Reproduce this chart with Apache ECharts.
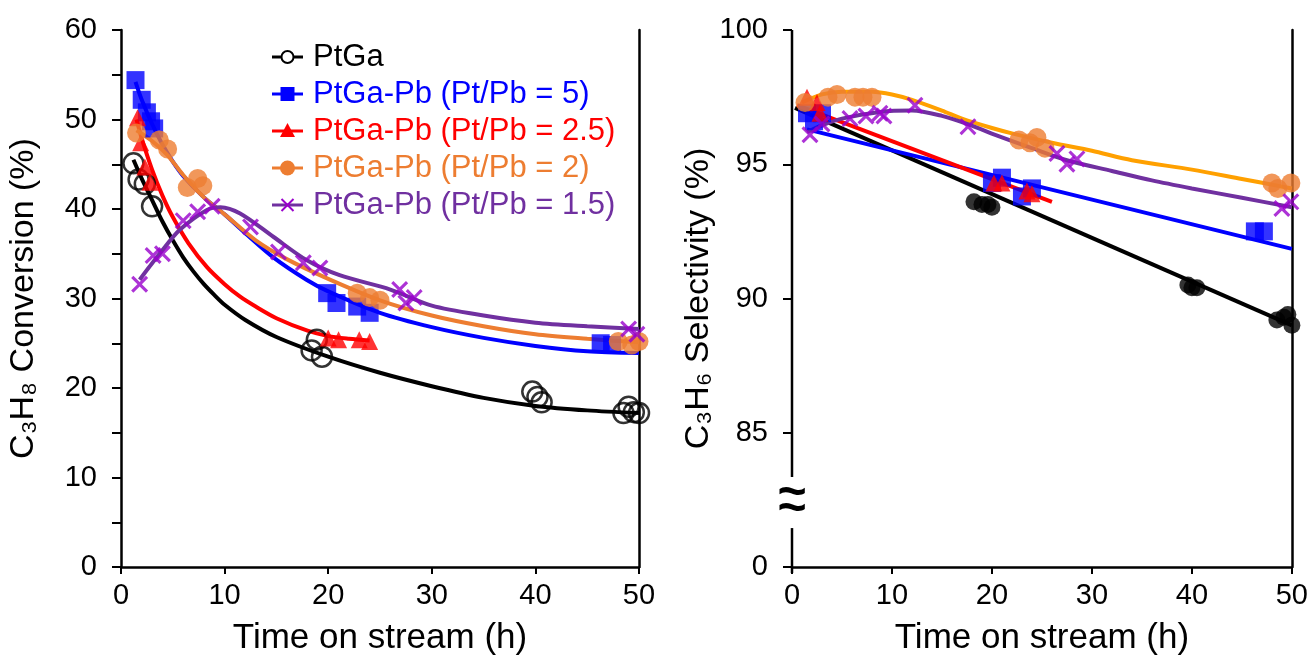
<!DOCTYPE html>
<html>
<head>
<meta charset="utf-8">
<script src="https://cdn.jsdelivr.net/npm/echarts@6/dist/echarts.min.js"></script>
<style>
html, body { margin: 0; padding: 0; background: #fff; }
#chart { width: 1311px; height: 666px; }
</style>
</head>
<body>
<div id="chart"></div>
<script>
// ---- Series labels ----
const seriesNames = ['PtGa', 'PtGa-Pb (Pt/Pb = 5)', 'PtGa-Pb (Pt/Pb = 2.5)', 'PtGa-Pb (Pt/Pb = 2)', 'PtGa-Pb (Pt/Pb = 1.5)'];

// ---- Axis labels ----
const timeTitle = 'Time on stream (h)';
const convTitle = 'C\u2083H\u2088 Conversion (%)';
const selTitle = 'C\u2083H\u2086 Selectivity (%)';
const selBreakLow = 80;    // value position of the "0" tick below the break
const selBreakFrom = 81.45; // axis gap start
const selBreakTo = 83.35;   // axis gap end

// ---- C3H8 conversion (%) vs time on stream (h): measured points ----
const convPtGa = [[1.2,45.1],[1.7,43.3],[2.3,42.8],[3.0,40.3],[18.4,24.2],[18.9,25.4],[19.4,23.5],[39.7,19.6],[40.2,19.0],[40.6,18.4],[48.5,17.2],[49.0,17.9],[49.5,17.3],[50.0,17.2]];
const convPb5 = [[1.4,54.4],[2.0,52.2],[2.5,50.8],[2.9,49.8],[3.2,49.0],[19.9,30.6],[20.8,29.5],[22.8,29.1],[24.0,28.4],[46.3,25.0],[47.4,24.8]];
const convPb25 = [[1.6,50.2],[1.9,47.4],[2.3,44.7],[2.8,43.0],[20.0,25.6],[21.0,25.4],[23.0,25.4],[24.0,25.2]];
const convPb2 = [[1.5,48.5],[3.7,47.7],[4.5,46.7],[6.4,42.4],[7.4,43.4],[7.9,42.6],[22.8,30.6],[24.0,30.1],[25.0,29.8],[48.0,25.2],[49.3,24.8],[50.0,25.2]];
const convPb15 = [[1.8,31.6],[3.1,34.8],[4.0,35.0],[6.0,38.7],[7.4,39.7],[8.8,40.3],[12.5,38.0],[15.2,35.2],[17.6,34.0],[19.2,33.4],[26.9,31.0],[27.5,29.5],[28.3,30.1],[49.0,26.6],[49.8,26.0]];

// ---- C3H8 conversion trend curves ----
const convFitPtGa = [[1.2,45.5],[2,43.4],[3,41.0],[4,38.6],[5,36.5],[6,34.6],[7,33.0],[8,31.6],[9,30.4],[10,29.3],[12,27.6],[15,25.7],[20,23.5],[25,21.7],[30,20.2],[35,18.9],[40,18.0],[45,17.5],[50,17.2]];
const convFitPb5 = [[1.4,54.2],[2,52.2],[3,49.5],[4,47.2],[5,45.3],[6,43.7],[8,41.3],[10,39.4],[12,37.3],[14.7,34.6],[17.9,32.1],[20,30.8],[25,28.4],[30,26.8],[35,25.6],[40,24.7],[45,24.1],[50,23.9]];
const convFitPb25 = [[1.5,50],[2,47.9],[3,44.4],[4,41.5],[5,39.1],[6.5,36.2],[8.3,33.5],[10,31.6],[11.5,30.2],[13,29.1],[15,27.8],[18,26.4],[20,25.8],[22,25.5],[24,25.3]];
const convFitPb2 = [[1.5,48.8],[3,47.6],[4.5,46],[6,43.8],[8,41.3],[10,39.4],[13,36.5],[16,34.4],[20,32.2],[25,29.8],[30,28.1],[35,26.9],[40,26.0],[45,25.5],[50,25.1]];
const convFitPb15 = [[1.8,32.1],[3.8,35.1],[5.7,37.7],[8.3,39.9],[9.6,40.2],[11.5,39.5],[14.7,36.9],[17.9,34.3],[21.1,32.6],[26,31.0],[30,29.2],[35,28.1],[40,27.3],[45,26.9],[50,26.6]];

// ---- C3H6 selectivity (%) vs time on stream (h): measured points ----
const selPtGa = [[18.2,93.6],[19.0,93.5],[19.6,93.5],[20.0,93.4],[39.6,90.5],[40.0,90.4],[40.5,90.4],[48.5,89.2],[49.2,89.3],[49.6,89.4],[50.0,89.0]];
const selPb5 = [[1.5,96.9],[2.2,96.6],[3.0,96.9],[20.0,94.3],[21.0,94.5],[23.0,93.8],[24.0,94.1],[46.3,92.5],[47.2,92.5]];
const selPb25 = [[1.5,97.5],[2.5,97.3],[2.8,96.9],[20.2,94.3],[21.0,94.3],[23.5,94.0],[24.0,93.9]];
const selPb2 = [[1.3,97.3],[3.6,97.5],[4.5,97.6],[6.3,97.5],[7.1,97.5],[8.0,97.5],[22.7,95.9],[23.8,95.8],[24.5,96.0],[25.3,95.6],[48.0,94.3],[48.6,94.1],[49.9,94.3]];
const selPb15 = [[1.8,96.1],[3.0,96.5],[5.8,96.7],[7.4,96.8],[8.8,96.9],[9.2,96.8],[12.3,97.2],[17.6,96.4],[26.5,95.4],[27.5,95.0],[28.5,95.2],[49.0,93.35],[49.9,93.6]];

// ---- C3H6 selectivity trend lines ----
const selFitPtGa = [[0.3,97.1],[50,89.0]];
const selFitPb5 = [[1.5,96.3],[50,91.85]];
const selFitPb25 = [[0.5,97.2],[26,93.6]];
const selFitPb2 = [[1,97.3],[3,97.6],[5,97.7],[8,97.7],[10,97.6],[12,97.4],[15,97.0],[17,96.7],[20,96.35],[22,96.15],[26,95.8],[30,95.5],[34,95.15],[40,94.8],[45,94.45],[50,94.1]];
const selFitPb15 = [[1.5,96.2],[3,96.45],[5,96.7],[8.8,96.95],[12,97.0],[15,96.8],[17.5,96.5],[21,96.0],[24,95.6],[27.5,95.15],[32,94.75],[36,94.4],[40,94.1],[45,93.75],[50,93.4]];

const FONT = '"Liberation Sans", Arial, sans-serif';
const C = {
  black: '#000000', blue: '#0000FF', red: '#FF0000',
  orange: '#ED7D31', orangeLine: '#FFA000',
  purpleLine: '#7030A0', purpleMark: '#9900CC'
};
const crossPath = 'path://M0,1.3 L1.3,0 L5,3.7 L8.7,0 L10,1.3 L6.3,5 L10,8.7 L8.7,10 L5,6.3 L1.3,10 L0,8.7 L3.7,5 Z';

const chart = echarts.init(document.getElementById('chart'), null, { renderer: 'canvas' });

function xAxisDef(gridIndex) {
  return {
    gridIndex, type: 'value', min: 0, max: 50, interval: 10,
    axisLine: { show: true, onZero: false, lineStyle: { color: '#000', width: 2.5 } },
    axisTick: { show: true, inside: false, length: 7, lineStyle: { color: '#000', width: 2 } },
    axisLabel: { fontSize: 29, color: '#000', fontFamily: FONT, margin: 14 },
    splitLine: { show: false },
    name: timeTitle, nameLocation: 'middle', nameGap: 54,
    nameTextStyle: { fontSize: 35, color: '#000', fontFamily: FONT }
  };
}
const yTitleStyle = { fontSize: 34, color: '#000', fontFamily: FONT };
function frameAxis(gridIndex, min, max) {
  return {
    gridIndex, type: 'value', position: 'right', min, max,
    axisLine: { show: true, onZero: false, lineStyle: { color: '#000', width: 2.5 } },
    axisTick: { show: false }, axisLabel: { show: false }, splitLine: { show: false }
  };
}

function scatter(name, data, x, y, symbol, size, itemStyle) {
  return { name, type: 'scatter', xAxisIndex: x, yAxisIndex: y, data, symbol, symbolSize: size, itemStyle, z: 5, silent: true };
}
function curve(name, data, x, y, color, smooth) {
  return {
    name, type: 'line', xAxisIndex: x, yAxisIndex: y, data, smooth, showSymbol: false, symbol: 'none',
    lineStyle: { color, width: 4 }, z: 3, silent: true
  };
}

const option = {
  animation: false,
  backgroundColor: '#fff',
  grid: [
    { left: 121, top: 30, width: 518, height: 537 },
    { left: 792, top: 30, width: 500, height: 537 }
  ],
  xAxis: [xAxisDef(0), xAxisDef(1)],
  yAxis: [
    {
      gridIndex: 0, type: 'value', min: 0, max: 60, interval: 5,
      axisLine: { show: true, onZero: false, lineStyle: { color: '#000', width: 2.5 } },
      axisTick: { show: true, length: 9, lineStyle: { color: '#000', width: 2 } },
      axisLabel: { fontSize: 29, color: '#000', fontFamily: FONT, margin: 24,
        formatter: v => (v % 10 === 0 ? String(v) : '') },
      splitLine: { show: false },
      name: convTitle, nameLocation: 'middle', nameRotate: 90, nameGap: 80,
      nameTextStyle: yTitleStyle
    },
    frameAxis(0, 0, 60),
    {
      gridIndex: 1, type: 'value', min: selBreakLow, max: 100, interval: 5,
      axisLine: { show: false },
      axisTick: { show: true, length: 9, lineStyle: { color: '#000', width: 2 } },
      axisLabel: { fontSize: 29, color: '#000', fontFamily: FONT, margin: 24,
        formatter: v => (v === selBreakLow ? '0' : String(v)) },
      splitLine: { show: false },
      name: selTitle, nameLocation: 'middle', nameRotate: 90, nameGap: 76,
      nameTextStyle: yTitleStyle
    },
    frameAxis(1, selBreakLow, 100)
  ],
  series: [
    // conversion panel
    curve('fitConvPtGa', convFitPtGa, 0, 0, C.black, 0.3),
    curve('fitConvPb5', convFitPb5, 0, 0, C.blue, 0.3),
    curve('fitConvPb25', convFitPb25, 0, 0, C.red, 0.3),
    curve('fitConvPb2', convFitPb2, 0, 0, C.orange, 0.3),
    curve('fitConvPb15', convFitPb15, 0, 0, C.purpleLine, 0.3),
    scatter(seriesNames[0], convPtGa, 0, 0, 'circle', 20, { color: 'rgba(0,0,0,0)', borderColor: C.black, borderWidth: 2.5 }),
    scatter(seriesNames[1], convPb5, 0, 0, 'rect', 18, { color: C.blue }),
    scatter(seriesNames[2], convPb25, 0, 0, 'triangle', 17, { color: C.red }),
    scatter(seriesNames[3], convPb2, 0, 0, 'circle', 19, { color: C.orange }),
    scatter(seriesNames[4], convPb15, 0, 0, crossPath, 17, { color: C.purpleMark }),
    // selectivity panel
    curve('fitSelPtGa', selFitPtGa, 1, 2, C.black, false),
    curve('fitSelPb5', selFitPb5, 1, 2, C.blue, false),
    curve('fitSelPb25', selFitPb25, 1, 2, C.red, false),
    curve('fitSelPb2', selFitPb2, 1, 2, C.orangeLine, 0.3),
    curve('fitSelPb15', selFitPb15, 1, 2, C.purpleLine, 0.3),
    scatter(seriesNames[0], selPtGa, 1, 2, 'circle', 17, { color: C.black }),
    scatter(seriesNames[1], selPb5, 1, 2, 'rect', 18, { color: C.blue }),
    scatter(seriesNames[2], selPb25, 1, 2, 'triangle', 17, { color: C.red }),
    scatter(seriesNames[3], selPb2, 1, 2, 'circle', 19, { color: C.orange }),
    scatter(seriesNames[4], selPb15, 1, 2, crossPath, 17, { color: C.purpleMark })
  ]
};
chart.setOption(option);

// ---- Legend (line + marker icon, coloured text) ----
const legendRows = [57, 94, 131, 168, 205];
const legendColors = [C.black, C.blue, C.red, C.orange, C.purpleLine];
const lx1 = 272, lx2 = 303, lmx = 287.5, ltx = 313;
const g = [];
legendRows.forEach((y, i) => {
  g.push({ type: 'line', shape: { x1: lx1, y1: y, x2: lx2, y2: y }, style: { stroke: legendColors[i], lineWidth: 3 }, z: 10 });
  if (i === 0) g.push({ type: 'circle', shape: { cx: lmx, cy: y, r: 6 }, style: { fill: '#fff', stroke: C.black, lineWidth: 2 }, z: 11 });
  if (i === 1) g.push({ type: 'rect', shape: { x: lmx - 7, y: y - 7, width: 14, height: 14 }, style: { fill: C.blue }, z: 11 });
  if (i === 2) g.push({ type: 'polygon', shape: { points: [[lmx, y - 8], [lmx + 7.5, y + 6], [lmx - 7.5, y + 6]] }, style: { fill: C.red }, z: 11 });
  if (i === 3) g.push({ type: 'circle', shape: { cx: lmx, cy: y, r: 7.5 }, style: { fill: C.orange }, z: 11 });
  if (i === 4) {
    g.push({ type: 'line', shape: { x1: lmx - 6, y1: y - 6, x2: lmx + 6, y2: y + 6 }, style: { stroke: C.purpleMark, lineWidth: 2 }, z: 11 });
    g.push({ type: 'line', shape: { x1: lmx + 6, y1: y - 6, x2: lmx - 6, y2: y + 6 }, style: { stroke: C.purpleMark, lineWidth: 2 }, z: 11 });
  }
  g.push({ type: 'text', x: ltx, y: y, style: { text: seriesNames[i], fill: legendColors[i], font: '31px ' + FONT, align: 'left', verticalAlign: 'middle' }, z: 11 });
});

// ---- Broken selectivity axis line with break mark ----
const pLow = chart.convertToPixel({ gridIndex: 1 }, [0, selBreakLow]);
const pFrom = chart.convertToPixel({ gridIndex: 1 }, [0, selBreakFrom]);
const pTo = chart.convertToPixel({ gridIndex: 1 }, [0, selBreakTo]);
const pTop = chart.convertToPixel({ gridIndex: 1 }, [0, 100]);
g.push({ type: 'line', shape: { x1: pLow[0], y1: pLow[1] + 6, x2: pFrom[0], y2: pFrom[1] }, style: { stroke: '#000', lineWidth: 2.5 }, z: 10 });
g.push({ type: 'line', shape: { x1: pTo[0], y1: pTo[1], x2: pTop[0], y2: pTop[1] }, style: { stroke: '#000', lineWidth: 2.5 }, z: 10 });
const midY = (pFrom[1] + pTo[1]) / 2;
[-8, 8].forEach(dy => {
  g.push({ type: 'text', x: pLow[0], y: midY + dy, style: { text: '~', fill: '#000', font: 'bold 50px ' + FONT, align: 'center', verticalAlign: 'middle' }, z: 11 });
});

chart.setOption({ graphic: g });
</script>
</body>
</html>
